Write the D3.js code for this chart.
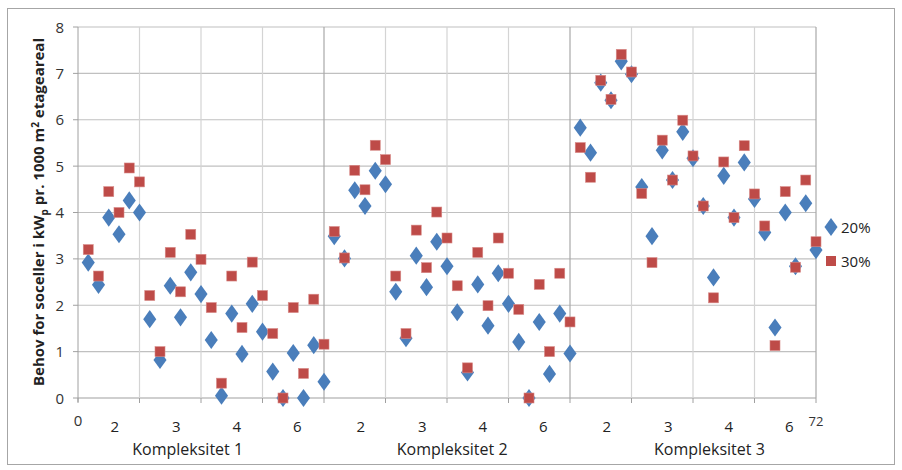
<!DOCTYPE html>
<html><head><meta charset="utf-8">
<script src="https://cdn.jsdelivr.net/npm/d3@7"></script>
<style>body{margin:0;background:#fff}svg{font-family:"Open Sans",Calibri,sans-serif}</style>
</head><body>
<svg id="c" width="902" height="470"></svg>
<script>
const s20 = [2.92,2.44,3.89,3.53,4.26,4.0,1.7,0.82,2.42,1.74,2.71,2.24,1.25,0.05,1.82,0.95,2.03,1.43,0.57,0.0,0.97,0.0,1.14,0.35,
 3.49,3.01,4.48,4.14,4.9,4.61,2.29,1.29,3.07,2.39,3.37,2.84,1.85,0.55,2.45,1.56,2.69,2.03,1.21,0.0,1.64,0.52,1.82,0.96,
 5.83,5.29,6.8,6.42,7.26,6.98,4.55,3.49,5.34,4.7,5.74,5.17,4.14,2.6,4.79,3.89,5.08,4.29,3.57,1.52,4.0,2.84,4.2,3.19];
const s30 = [3.2,2.63,4.45,4.0,4.96,4.66,2.21,1.0,3.14,2.29,3.53,2.99,1.95,0.32,2.63,1.52,2.93,2.21,1.39,0.0,1.95,0.53,2.13,1.16,
 3.59,3.02,4.91,4.49,5.45,5.14,2.63,1.39,3.62,2.81,4.01,3.45,2.42,0.65,3.14,1.99,3.45,2.69,1.91,0.0,2.45,1.0,2.69,1.64,
 5.4,4.76,6.85,6.44,7.41,7.03,4.41,2.92,5.56,4.7,5.99,5.22,4.14,2.16,5.09,3.89,5.44,4.4,3.71,1.13,4.45,2.82,4.7,3.37];
const tickLabels = ["2","3","4","6"];
const tickPos = [3.6,9.6,15.5,21.4];
const groups = ["Kompleksitet 1","Kompleksitet 2","Kompleksitet 3"];
const groupPos = [10.7,36.5,61.6];
const seriesNames = ["20%","30%"];
const colors = ["#4a7ebb","#be4b48"];

const svg = d3.select("#c");
svg.append("rect").attr("x",7.5).attr("y",8.5).attr("width",887).attr("height",456).attr("fill","none").attr("stroke","#a6a6a6");
const x = d3.scaleLinear().domain([0,72]).range([78,816]);
const y = d3.scaleLinear().domain([0,8]).range([398,27]);
svg.append("g").selectAll("line").data(d3.range(0,9)).join("line")
  .attr("x1",x(0)).attr("x2",x(72)).attr("y1",d=>y(d)).attr("y2",d=>y(d))
  .attr("stroke",d=>d===0?"#a0a0a0":"#c0c0c0").attr("stroke-width",1.2);
svg.append("g").selectAll("line").data(d3.range(6,73,6)).join("line")
  .attr("x1",d=>x(d)).attr("x2",d=>x(d)).attr("y1",y(8)).attr("y2",y(0))
  .attr("stroke",d=>d%24===0?"#a8a8a8":"#d4d4d4").attr("stroke-width",1.2);
svg.append("line").attr("x1",x(0)).attr("x2",x(0)).attr("y1",y(8)).attr("y2",y(0)+4).attr("stroke","#a0a0a0");
svg.append("g").selectAll("line").data(d3.range(0,9)).join("line")
  .attr("x1",x(0)-5).attr("x2",x(0)).attr("y1",d=>y(d)).attr("y2",d=>y(d)).attr("stroke","#a0a0a0");
svg.append("g").selectAll("text").data(d3.range(0,9)).join("text")
  .attr("x",64).attr("y",d=>y(d)+5.5).attr("text-anchor","end").attr("font-size",15).attr("fill","#333").text(d=>d);
svg.append("g").selectAll("line").data(d3.range(0,73,6)).join("line")
  .attr("x1",d=>x(d)).attr("x2",d=>x(d)).attr("y1",y(0)).attr("y2",y(0)+5).attr("stroke","#a0a0a0");
const xl = [];
groups.forEach((g,gi)=>tickLabels.forEach((t,i)=>xl.push({v:tickPos[i]+24*gi,t})));
svg.append("g").selectAll("text").data(xl).join("text")
  .attr("x",d=>x(d.v)).attr("y",432).attr("text-anchor","middle").attr("font-size",15).attr("fill","#222").text(d=>d.t);
svg.append("text").attr("x",x(0)).attr("y",426).attr("text-anchor","middle").attr("font-size",15).attr("fill","#333").text("0");
svg.append("text").attr("x",x(72)).attr("y",426).attr("text-anchor","middle").attr("font-size",13).attr("fill","#333").text("72");
svg.append("g").selectAll("text").data(groups).join("text")
  .attr("x",(d,i)=>x(groupPos[i])).attr("y",455).attr("text-anchor","middle").attr("font-size",16).attr("fill","#222").text(d=>d);
const yt = svg.append("text").attr("transform","translate(44,212) rotate(-90)").attr("text-anchor","middle")
  .attr("font-size",15).attr("font-weight","bold").attr("fill","#222");
yt.append("tspan").text("Behov for soceller i kW");
yt.append("tspan").attr("font-size",10).attr("dy",4).text("p");
yt.append("tspan").attr("dy",-4).text(" pr. 1000 m");
yt.append("tspan").attr("font-size",10).attr("dy",-5).text("2");
yt.append("tspan").attr("dy",5).text(" etageareal");
const diamond = d3.symbol().type(d3.symbolDiamond).size(95);
svg.append("g").selectAll("path").data(s20).join("path")
  .attr("d",diamond).attr("transform",(d,i)=>`translate(${x(i+1)},${y(d)}) scale(1.25,1)`).attr("fill",colors[0]);
svg.append("g").selectAll("rect").data(s30).join("rect")
  .attr("x",(d,i)=>x(i+1)-5).attr("y",d=>y(d)-5).attr("width",10).attr("height",10)
  .attr("fill",colors[1]).attr("stroke","#d88a88").attr("stroke-width",0.6);
const lg = svg.append("g");
lg.append("path").attr("d",diamond).attr("transform",`translate(831,227) scale(1.25,1)`).attr("fill",colors[0]);
lg.append("rect").attr("x",826).attr("y",256).attr("width",10).attr("height",10).attr("fill",colors[1]);
lg.append("text").attr("x",841).attr("y",233).attr("font-size",15).attr("fill","#222").text(seriesNames[0]);
lg.append("text").attr("x",841).attr("y",267).attr("font-size",15).attr("fill","#222").text(seriesNames[1]);
</script>
</body></html>
